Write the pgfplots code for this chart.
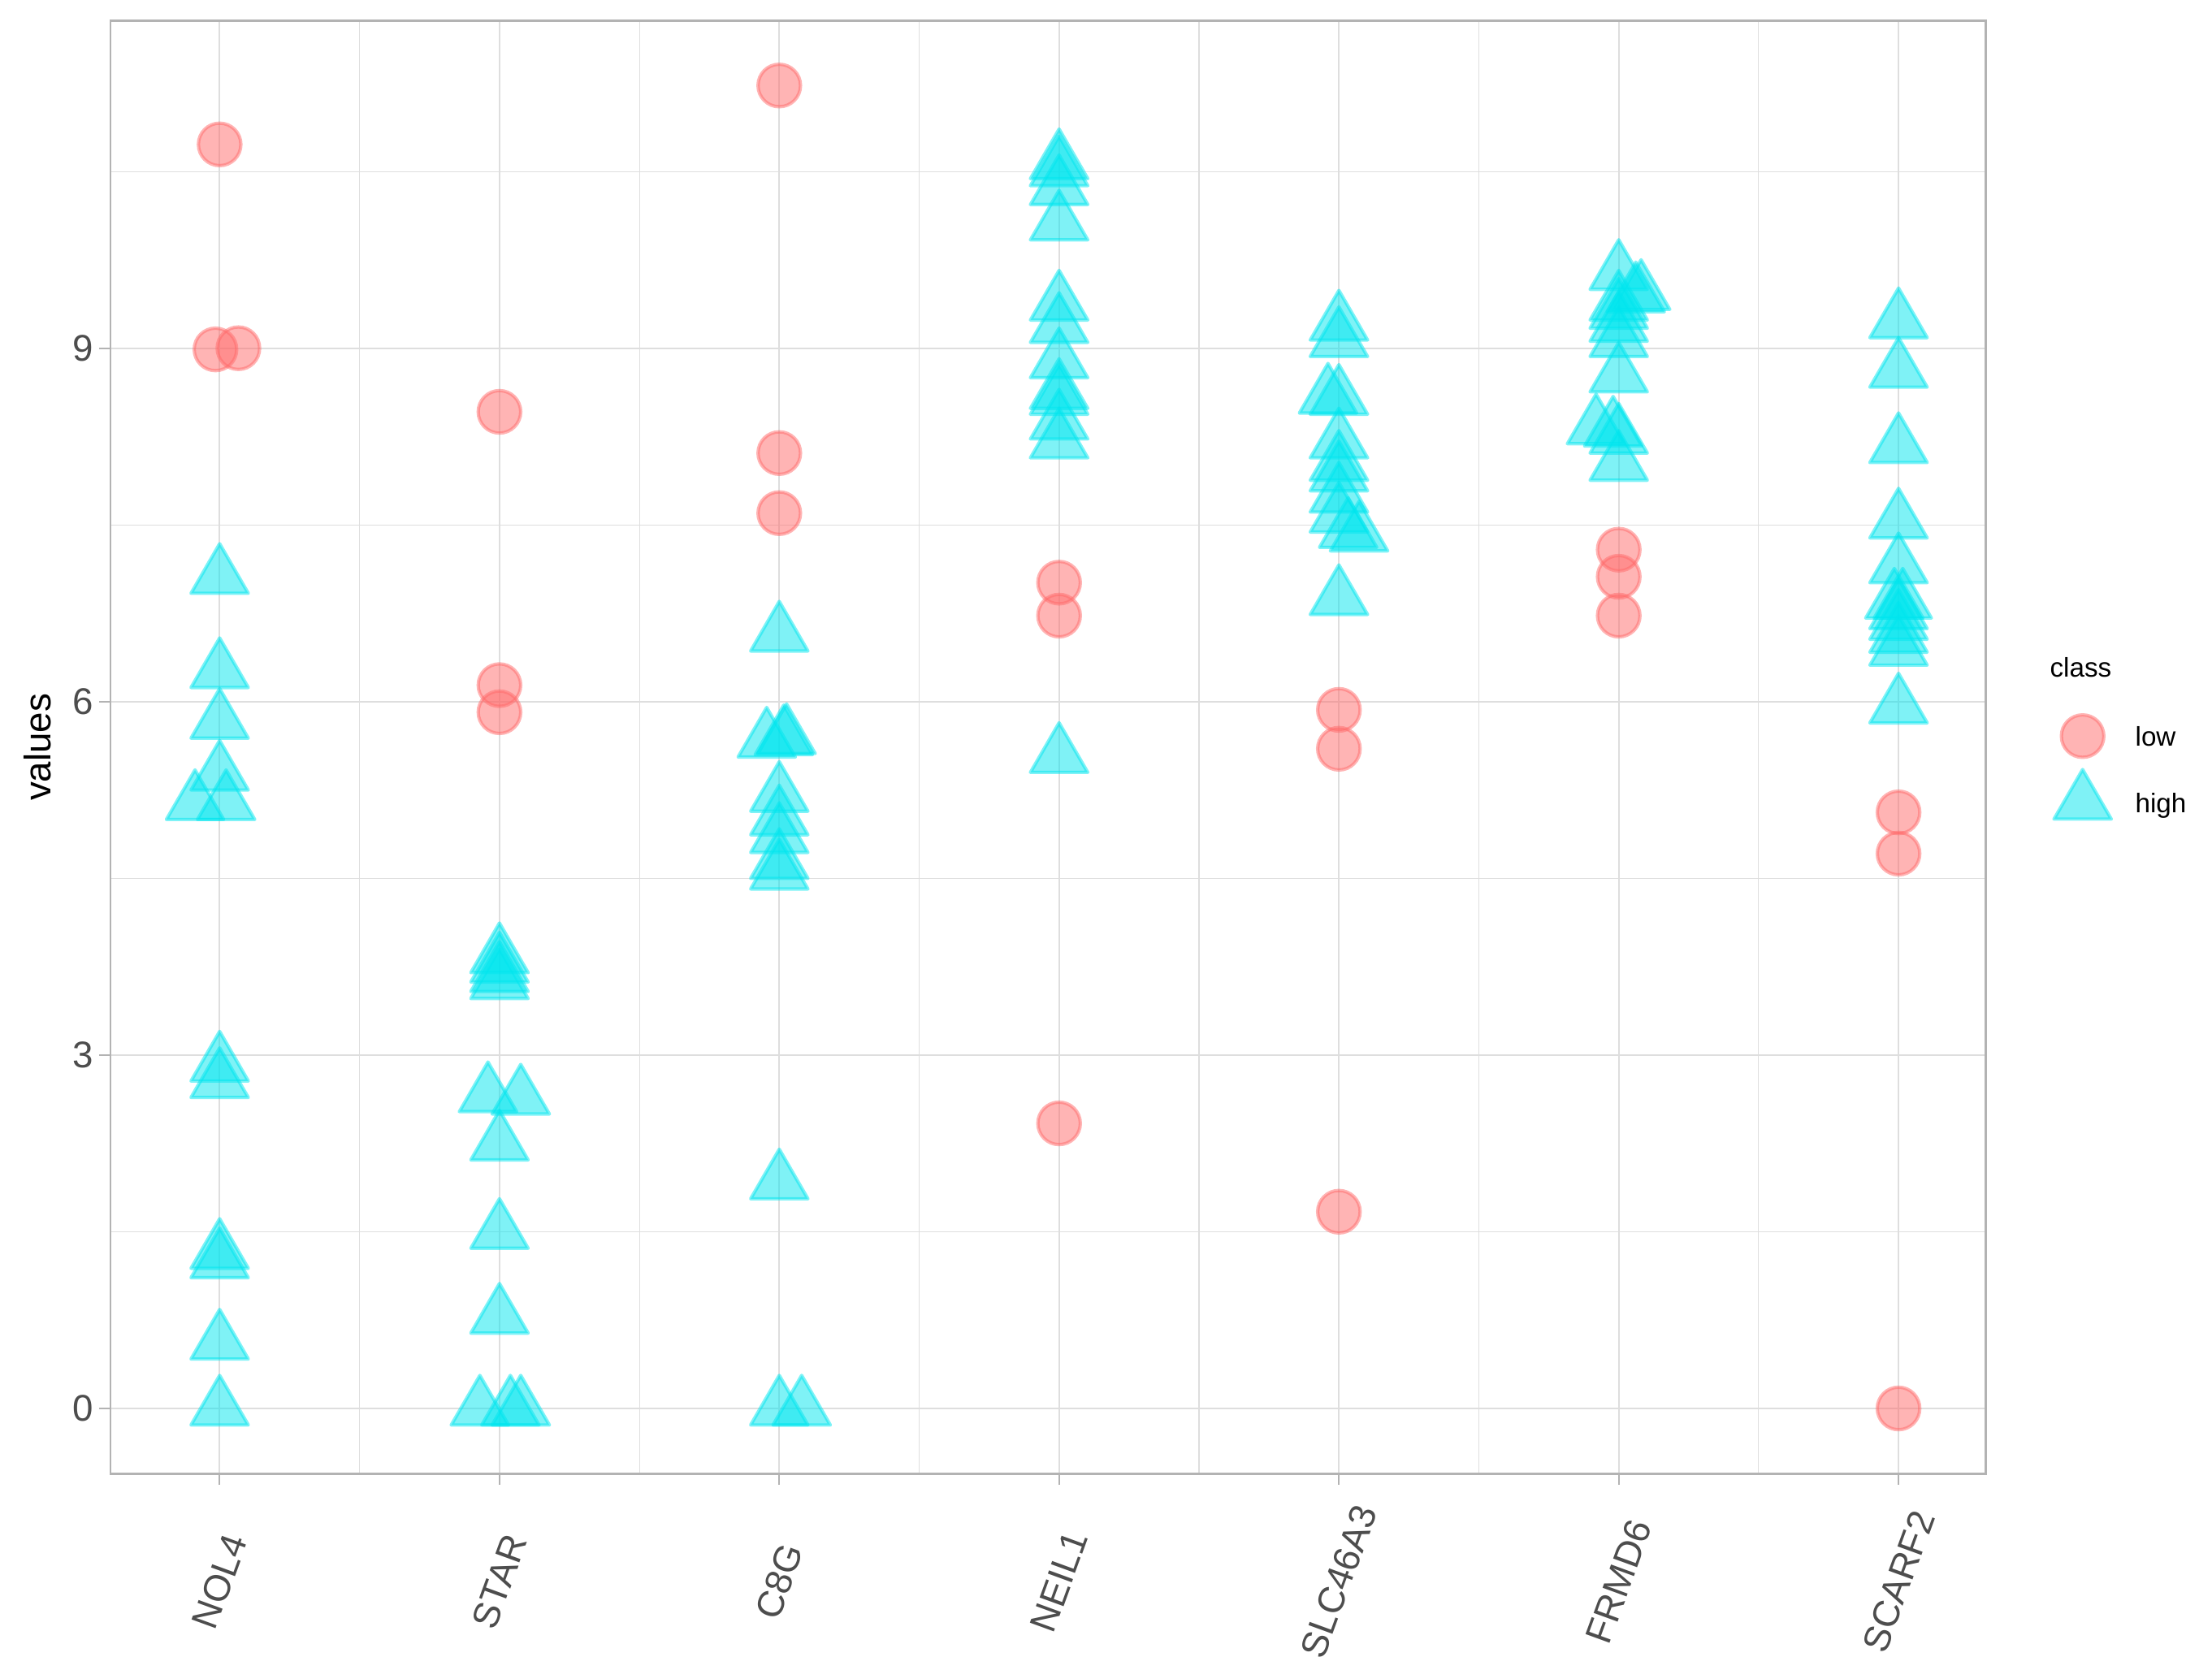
\documentclass[border=0pt]{standalone}
\usepackage{fontspec}
\setmainfont{Liberation Sans}
\usepackage{pgfplots}
\pgfplotsset{compat=1.18}
\definecolor{lowc}{HTML}{FF6A6A}
\definecolor{highc}{HTML}{00E5EE}
\definecolor{gridc}{HTML}{DEDEDE}
\definecolor{bordc}{HTML}{B3B3B3}
\definecolor{tickc}{HTML}{4D4D4D}
\pgfplotsset{mylegimg/.style={legend image code/.code={\path[draw=none,fill=none] (0pt,0pt) -- (0.6cm,0pt); \draw[overlay,##1,only marks] plot coordinates {(0.3cm,0pt)};}}}
\begin{document}
\begin{tikzpicture}
\path[use as bounding box] (-32.71pt,-57.98pt) rectangle (623.25pt,437.07pt);
\begin{axis}[
  at={(0pt,0pt)}, anchor=south west,
  scale only axis, width=556.1pt, height=430.92pt,
  xmin=0.6092, xmax=7.311, ymin=-0.554, ymax=11.78,
  xtick={1,2,3,4,5,6,7},
  xticklabels={NOL4,STAR,C8G,NEIL1,SLC46A3,FRMD6,SCARF2},
  minor xtick={1.5,2.5,3.5,4.5,5.5,6.5},
  ytick={0,3,6,9}, minor ytick={1.5,4.5,7.5,10.5},
  grid=both,
  major grid style={draw=gridc, line width=0.5pt},
  minor grid style={draw=gridc, line width=0.25pt},
  axis line style={draw=bordc, line width=0.6pt},
  tick align=outside, tick pos=left,
  major tick length=3.2pt, minor tick length=0pt,
  tick style={draw=bordc, line width=0.5pt},
  tick label style={font=\fontsize{11}{13}\selectfont, text=tickc},
  /pgf/number format/assume math mode=true,
  yticklabel style={anchor=east, inner sep=0pt, xshift=-1.55pt},
  xticklabel style={yshift=-28.8pt, rotate=70, anchor=center, inner sep=0pt},
  ylabel={values},
  every axis y label/.style={at={(axis description cs:-0.0386,0.5)}, rotate=90, anchor=center, font=\fontsize{11}{13}\selectfont, text=black},
  legend cell align=left,
  legend style={at={(1.0364,0.5146)}, anchor=north west, draw=none, fill=none,
    inner sep=0pt, outer sep=0pt, row sep=13.7pt,
    font=\fontsize{8}{9.6}\selectfont,
    nodes={anchor=west, inner sep=0pt, text height=6pt, text depth=0pt},
    /tikz/every odd column/.append style={column sep=7.1pt}},
  mylegimg,
]
\addplot[only marks, mark=*, mark size=6.3pt,
  mark options={draw=lowc, fill=lowc, draw opacity=0.5, fill opacity=0.5, line width=1pt}]
table {
x y
1 10.73
0.985 8.99
1.067 9.00
2 8.46
2 6.14
2 5.91
3 11.23
3 8.11
3 7.60
4 7.01
4 6.73
4 2.42
5 5.93
5 5.60
5 1.67
6 7.29
6 7.06
6 6.73
7 5.06
7 4.71
7 0.00
};
\addlegendentry{low}
\addplot[only marks, mark=triangle*, mark size=9.8pt,
  mark options={draw=highc, fill=highc, draw opacity=0.5, fill opacity=0.5, line width=1pt, line join=round}]
table {
x y
1 7.06
1 6.26
1 5.83
1 5.39
0.912 5.14
1.023 5.14
1 2.92
1 2.78
1 1.33
1 1.25
1 0.56
1 0.00
2 3.84
2 3.76
2 3.68
2 3.62
1.959 2.66
2.076 2.64
2 2.25
2 1.50
2 0.78
1.930 0.00
2.039 0.00
2.076 0.00
2.955 5.67
3.016 5.69
3.026 5.70
3 5.21
3 5.01
3 4.86
3 4.64
3 4.55
3 6.57
3 1.92
3 0.00
3.080 0.00
4 10.58
4 10.52
4 10.36
4 10.06
4 9.38
4 9.19
4 8.89
4 8.63
4 8.58
4 8.37
4 8.21
4 5.54
5 9.21
5 9.07
4.961 8.59
5 8.58
5 8.21
5 8.02
5 7.93
5 7.75
5 7.58
5.033 7.45
5.072 7.42
5 6.88
6 9.64
6.061 9.45
6.080 9.47
6 9.38
6 9.31
6 9.20
6 9.07
6 8.77
5.919 8.33
5.980 8.31
6 8.25
6 8.02
7 9.23
7 8.81
7 8.17
7 7.53
7 7.15
6.985 6.85
7.015 6.85
7 6.76
7 6.67
7 6.56
7 6.45
7 5.96
};
\addlegendentry{high}
\end{axis}
\node[anchor=base west, inner sep=0pt, font=\fontsize{8}{9.6}\selectfont] at (575.0pt,236.27pt) {class};
\end{tikzpicture}
\end{document}
